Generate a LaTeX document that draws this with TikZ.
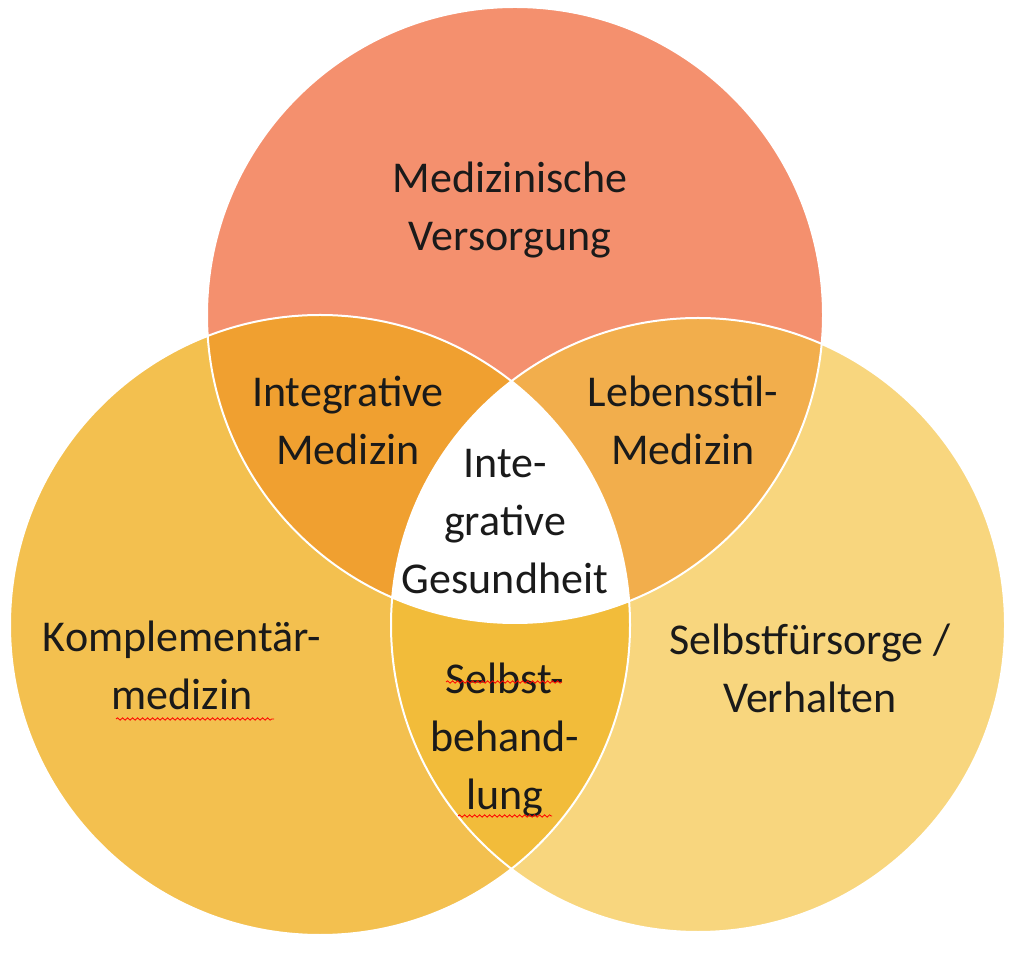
\documentclass[tikz,border=0pt]{standalone}
\usepackage{fontspec}
\setmainfont{Carlito}
\usetikzlibrary{decorations.pathmorphing}
\definecolor{ctop}{HTML}{F4906E}
\definecolor{cleft}{HTML}{F3C04F}
\definecolor{cright}{HTML}{F8D67E}
\definecolor{ctl}{HTML}{F0A030}
\definecolor{ctr}{HTML}{F2AE4C}
\definecolor{cbot}{HTML}{F2BC3A}
\definecolor{ctxt}{HTML}{1A1A1A}
\tikzset{lab/.style={align=center,font=\fontsize{44}{58}\selectfont,text=ctxt,inner sep=0pt},
wavy/.style={draw=red,line width=0.8pt,decorate,decoration={snake,amplitude=1.2pt,segment length=5pt}}}
\begin{document}
\begin{tikzpicture}[x=1pt,y=1pt]
\useasboundingbox (0,0) rectangle (1024,958);
\def\Ctop{(515,643) circle (308)}
\def\Cleft{(320,333) circle (310)}
\def\Cright{(698,333) circle (307)}
\fill[ctop] \Ctop;
\fill[cleft] \Cleft;
\fill[cright] \Cright;
\begin{scope}\clip \Ctop; \fill[ctl] \Cleft; \end{scope}
\begin{scope}\clip \Ctop; \fill[ctr] \Cright; \end{scope}
\begin{scope}\clip \Cleft; \fill[cbot] \Cright; \end{scope}
\begin{scope}\clip \Ctop; \clip \Cleft; \fill[white] \Cright; \end{scope}
\draw[white,line width=2pt] \Ctop \Cleft \Cright;
\node[lab] (m) at (510,748) {Medizinische\\Versorgung};
\node[lab] (im) at (348,538) {Integrative\\Medizin};
\node[lab] (lm) at (683,538) {Lebensstil-\\Medizin};
\node[lab] (ig) at (505,436) {Inte-\\grative\\Gesundheit};
\node[lab] (km) at (182,293) {Komplementär-\\medizin};
\node[lab] (sv) at (810,290) {Selbstfürsorge /\\Verhalten};
\node[lab] (sb) at (505,218) {Selbst-\\behand-\\lung};
\coordinate (w1a) at (116,239); \coordinate (w1b) at (274,239);
\draw[wavy] (w1a) -- (w1b);
\coordinate (w2a) at (446,276); \coordinate (w2b) at (562,276);
\draw[wavy] (w2a) -- (w2b);
\coordinate (w3a) at (458,142); \coordinate (w3b) at (552,142);
\draw[wavy] (w3a) -- (w3b);
\end{tikzpicture}
\end{document}
